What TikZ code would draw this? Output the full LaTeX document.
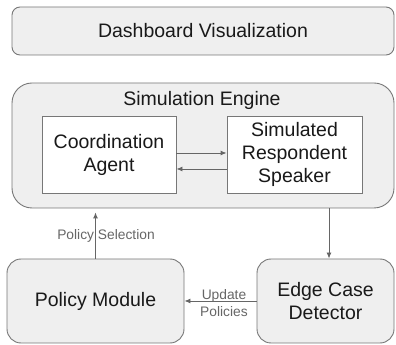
\documentclass[tikz,border=0pt]{standalone}
\usepackage{fontspec}
\setmainfont{Liberation Sans}
\usetikzlibrary{arrows.meta}
\definecolor{boxgray}{HTML}{EFEFEF}
\definecolor{linegray}{HTML}{777777}
\definecolor{labelgray}{HTML}{666666}
\begin{document}
\begin{tikzpicture}[x=1pt, y=1pt,
    outerbox/.style={draw=linegray, fill=boxgray, line width=0.9pt, inner sep=0pt},
    innerbox/.style={draw=linegray, fill=white, line width=0.9pt, inner sep=0pt,
        minimum height=77pt, align=center},
    conn/.style={draw=labelgray, line width=0.9pt, -{Latex[length=6pt,width=5pt]}},
    lbl/.style={text=labelgray, font=\fontsize{13.8}{16.5}\selectfont, align=center, inner sep=0pt},
    every node/.append style={font=\fontsize{19.5}{23}\selectfont, text=black!90}]
    \useasboundingbox (0,0) rectangle (396,345);
    % top boxes
    \node [outerbox, rounded corners=8pt, minimum width=382pt, minimum height=48pt]
        (dash) at (203,314) {Dashboard Visualization};
    \node [outerbox, rounded corners=20pt, minimum width=382pt, minimum height=125pt]
        (engine) at (203,199.5) {};
    \node (enginetitle) at (202,245) {Simulation Engine};
    \node [innerbox, minimum width=134pt] (coord) at (109,190.5) {Coordination\\Agent};
    \node [innerbox, minimum width=135pt] (speaker) at (294.5,190.5) {Simulated\\Respondent\\Speaker};

    % bottom boxes
    \node [outerbox, rounded corners=14pt, minimum width=177pt, minimum height=84pt]
        (policy) at (95.5,44) {Policy Module};
    \node [outerbox, rounded corners=14pt, minimum width=137pt, minimum height=84pt, align=center]
        (edge) at (325.5,44) {Edge Case\\Detector};

    % links
    \draw [conn] ([yshift=1.5pt]coord.east) -- ([yshift=1.5pt]speaker.west);
    \draw [conn] ([yshift=-14.5pt]speaker.west) -- ([yshift=-14.5pt]coord.east);
    \coordinate (seltip) at ([yshift=-4pt]engine.south -| policy.north);
    \draw [conn] (policy.north) -- (seltip);
    \node [lbl] (sellabel) at (106,109) {Policy Selection};
    \draw [conn] (engine.south -| 329,0) -- (edge.north -| 329,0);
    \draw [conn] (edge.west) -- (policy.east);
    \node [lbl] (updlabel) at (224,42) {Update\\Policies};
\end{tikzpicture}
\end{document}
